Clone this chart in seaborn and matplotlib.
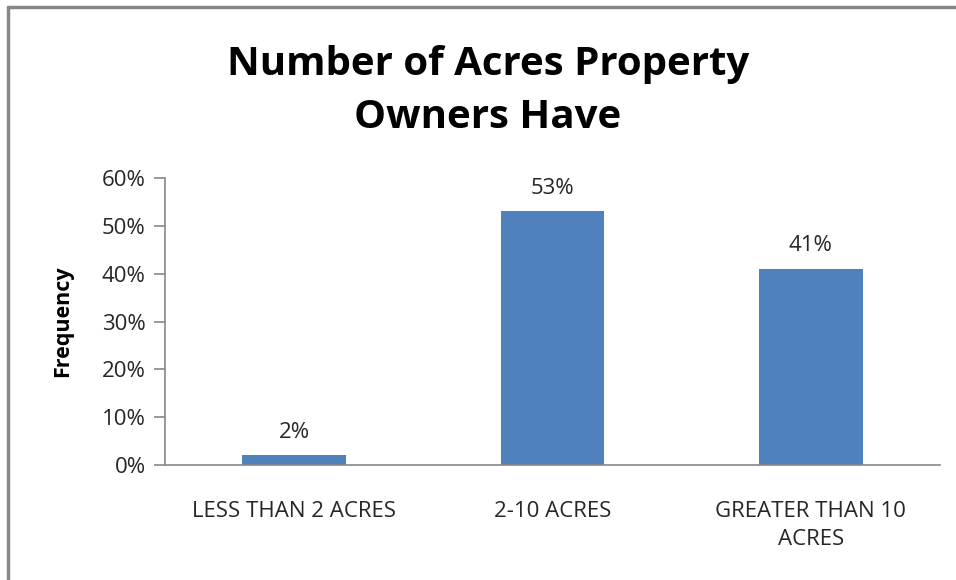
import matplotlib
matplotlib.use("Agg")
import matplotlib.pyplot as plt
import seaborn as sns
import pandas as pd
from matplotlib.lines import Line2D
from matplotlib.ticker import PercentFormatter

categories = ["LESS THAN 2 ACRES", "2-10 ACRES", "GREATER THAN 10\nACRES"]
values = [0.02, 0.53, 0.41]
labels = ["2%", "53%", "41%"]
yticks = [0, 0.1, 0.2, 0.3, 0.4, 0.5, 0.6]

sns.set_theme(style="white")
plt.rcParams['font.family'] = ['Open Sans', 'DejaVu Sans']

df = pd.DataFrame({"cat": categories, "val": values})

fig = plt.figure(figsize=(9.56, 5.8), dpi=100)
ax = fig.add_axes([165/956, 1-465/580, (940-165)/956, (465-178)/580])

sns.barplot(data=df, x="cat", y="val", color="#4F81BD", width=0.4,
            saturation=1, ax=ax, edgecolor="none")

ax.set_ylim(0, 0.6)
ax.set_yticks(yticks)
ax.yaxis.set_major_formatter(PercentFormatter(1.0, decimals=0))
ax.set_xlim(-0.5, 2.5)
ax.set_xlabel("")
ax.set_ylabel("Frequency", fontsize=15.5, fontweight="bold", color="#000000")
ax.yaxis.set_label_coords(-0.118, 0.5)

for s in ["top", "right"]:
    ax.spines[s].set_visible(False)
for s in ["left", "bottom"]:
    ax.spines[s].set_color("#888888")
    ax.spines[s].set_linewidth(1.2)

ax.tick_params(axis="y", which="both", left=True, length=8, width=1.2, color="#888888",
               labelsize=16, labelcolor="#262626", pad=6)
ax.tick_params(axis="x", bottom=False, labelsize=16, labelcolor="#262626", pad=20)
for lbl in ax.get_xticklabels():
    lbl.set_linespacing(1.4)

for i, (v, t) in enumerate(zip(values, labels)):
    ax.annotate(t, xy=(i, v), xytext=(0, 9), textcoords="offset points",
                ha="center", va="bottom", fontsize=16, color="#262626")

fig.text(488/956, 1-91/580, "Number of Acres Property\nOwners Have", ha="center", va="center",
         fontsize=29, fontweight="bold", color="#000000", linespacing=1.5)

# chart frame (top and left)
fig.add_artist(Line2D([8/956, 8/956], [0, 1-7/580], transform=fig.transFigure,
                      color="#888888", lw=2.5))
fig.add_artist(Line2D([8/956, 1], [1-7/580, 1-7/580], transform=fig.transFigure,
                      color="#888888", lw=2.5))

fig.savefig("out.png", dpi=100, facecolor="white")
